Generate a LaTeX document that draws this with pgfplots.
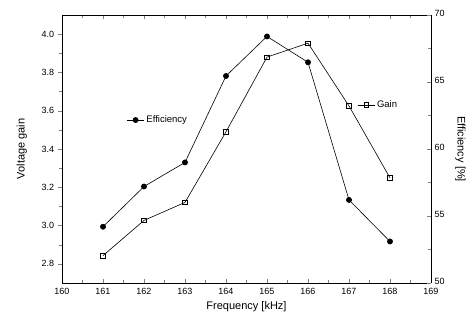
\documentclass[border=0pt]{standalone}
\usepackage{pgfplots}
\pgfplotsset{compat=1.18}
\usepackage{fontspec}
\setmainfont{Liberation Sans}
\begin{document}
\begin{tikzpicture}
\pgfplotsset{
  every axis/.style={
    scale only axis, width=369pt, height=268pt,
    xmin=160, xmax=169,
    xtick={160,...,169},
    minor x tick num=1,
    /pgf/number format/assume math mode=true,
    tick label style={font=\fontsize{9}{10}\selectfont},
    label style={font=\fontsize{11}{12}\selectfont},
    /pgf/number format/1000 sep={},
    legend style={draw=none, fill=none, font=\fontsize{9.5}{10}\selectfont, inner sep=0pt, row sep=0pt},
    legend cell align=left,
    every axis plot/.append style={line width=0.6pt},
  }
}
\begin{axis}[
  name=ax,
  ymin=2.7, ymax=4.1,
  ytick={2.8,3.0,...,4.0},
  yticklabel style={/pgf/number format/fixed, /pgf/number format/fixed zerofill, /pgf/number format/precision=1},
  minor y tick num=1,
  axis y line*=left,
  tick align=outside,
  xtick align=inside,
  xticklabel style={yshift=-2pt},
  xlabel={Frequency [kHz]},
  ylabel={Voltage gain},
  ylabel shift=8pt,
  legend style={at={(0.80,0.664)}, anchor=west},
]
\addplot[black, mark=square, mark size=2.3pt, mark options={fill=white, line width=0.5pt}] coordinates {
  (161,2.843) (162,3.027) (163,3.121) (164,3.49) (165,3.88) (166,3.953) (167,3.625) (168,3.249)
};
\addlegendentry{Gain}
\end{axis}
\begin{axis}[
  ymin=50, ymax=70,
  ytick={50,55,...,70},
  minor y tick num=1,
  axis y line*=right,
  axis x line=none,
  tick align=inside,
  yticklabel style={yshift=2pt},
  ylabel={Efficiency [\%]},
  ylabel style={rotate=180},
  ylabel shift=4pt,
  legend style={at={(0.175,0.608)}, anchor=west},
]
\addplot[black, mark=*, mark size=2.6pt] coordinates {
  (161,54.2) (162,57.2) (163,59.0) (164,65.45) (165,68.4) (166,66.47) (167,56.2) (168,53.1)
};
\addlegendentry{Efficiency}
\end{axis}
\path (ax.south west) ++(-62pt,-44pt) rectangle ([shift={(44pt,15pt)}]ax.north east);
\end{tikzpicture}
\end{document}
